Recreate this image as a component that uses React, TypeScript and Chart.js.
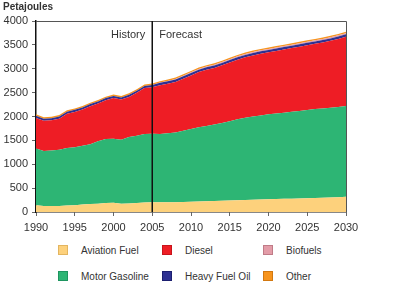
import React, { useEffect, useRef } from "react";
import { Chart, registerables } from "chart.js";

Chart.register(...registerables);

const years = [
  1990, 1991, 1992, 1993, 1994, 1995, 1996, 1997, 1998, 1999,
  2000, 2001, 2002, 2003, 2004, 2005, 2006, 2007, 2008, 2009,
  2010, 2011, 2012, 2013, 2014, 2015, 2016, 2017, 2018, 2019,
  2020, 2021, 2022, 2023, 2024, 2025, 2026, 2027, 2028, 2029, 2030,
];

const aviationFuel = [
  140, 125, 125, 125, 135, 140, 155, 165, 175, 190, 195, 175, 180, 190, 200, 205,
  205, 205, 205, 210, 215, 220, 225, 230, 235, 240,
  245, 250, 255, 260, 265, 270, 275, 280, 285, 290,
  295, 300, 305, 310, 320,
];

const motorGasoline = [
  1190, 1150, 1165, 1180, 1205, 1215, 1230, 1255, 1305, 1340, 1340, 1340, 1390, 1405, 1435, 1435,
  1430, 1445, 1460, 1490, 1525, 1555, 1575, 1600, 1630, 1660,
  1695, 1725, 1745, 1760, 1780, 1795, 1805, 1820, 1830, 1845,
  1860, 1870, 1880, 1890, 1900,
];

const diesel = [
  640, 635, 630, 650, 715, 740, 760, 795, 790, 810, 850, 840, 840, 900, 960, 975,
  1020, 1037, 1060, 1093, 1121, 1155, 1179, 1188, 1207, 1231,
  1250, 1265, 1279, 1294, 1298, 1308, 1323, 1332, 1347, 1357,
  1366, 1381, 1401, 1425, 1450,
];

const heavyFuelOil = [
  45, 45, 45, 45, 45, 45, 45, 45, 45, 45, 45, 45, 45, 45, 45, 45,
  50, 50, 50, 50, 50, 50, 50, 50, 50, 50,
  50, 50, 50, 50, 50, 50, 50, 50, 50, 50,
  50, 50, 50, 50, 50,
];

const biofuels = [
  0, 0, 0, 0, 0, 0, 0, 0, 0, 0, 0, 0, 0, 0, 0, 0,
  5, 8, 10, 12, 14, 15, 16, 17, 18, 19,
  20, 20, 21, 21, 22, 22, 22, 23, 23, 23,
  24, 24, 24, 25, 25,
];

const other = [
  30, 30, 30, 30, 30, 30, 30, 30, 30, 30, 30, 30, 30, 30, 30, 30,
  30, 30, 30, 30, 30, 30, 30, 30, 30, 30,
  30, 30, 30, 30, 30, 30, 30, 30, 30, 30,
  30, 30, 30, 30, 30,
];

const yTickValues = [0, 500, 1000, 1500, 2000, 2500, 3000, 3500, 4000];
const xTickValues = [1990, 1995, 2000, 2005, 2010, 2015, 2020, 2025, 2030];
const forecastStart = 2005;
const unitLabel = "Petajoules";
const historyLabel = "History";
const forecastLabel = "Forecast";

const COLORS = {
  aviation: "#FDD17C",
  gasoline: "#2DB574",
  diesel: "#EE1D25",
  hfo: "#2E3192",
  bio: "#E39CA8",
  other: "#F7941D",
};

// stacking order (bottom to top)
const seriesDefs = [
  { label: "Aviation Fuel", data: aviationFuel, color: COLORS.aviation },
  { label: "Motor Gasoline", data: motorGasoline, color: COLORS.gasoline },
  { label: "Diesel", data: diesel, color: COLORS.diesel },
  { label: "Heavy Fuel Oil", data: heavyFuelOil, color: COLORS.hfo },
  { label: "Biofuels", data: biofuels, color: COLORS.bio },
  { label: "Other", data: other, color: COLORS.other },
];

// legend layout order (row-major, 3 columns)
const legendItems = [
  { label: "Aviation Fuel", color: COLORS.aviation, border: "#E3B560" },
  { label: "Diesel", color: COLORS.diesel, border: "#C8141B" },
  { label: "Biofuels", color: COLORS.bio, border: "#C07B87" },
  { label: "Motor Gasoline", color: COLORS.gasoline, border: "#1E9560" },
  { label: "Heavy Fuel Oil", color: COLORS.hfo, border: "#1C1F70" },
  { label: "Other", color: COLORS.other, border: "#D27810" },
];
const legendCols = [58, 162, 263];
const legendRows = [250, 276];

const FONT = "'Liberation Sans', Arial, sans-serif";

const overlayPlugin = {
  id: "overlay",
  afterDatasetsDraw(chart: any) {
    const { ctx, chartArea, scales } = chart;
    const x = scales.x.getPixelForValue(forecastStart);
    ctx.save();
    // top/right frame
    ctx.strokeStyle = "#555";
    ctx.lineWidth = 1;
    ctx.beginPath();
    ctx.moveTo(chartArea.left, chartArea.top + 0.5);
    ctx.lineTo(chartArea.right + 0.5, chartArea.top + 0.5);
    ctx.lineTo(chartArea.right + 0.5, chartArea.bottom);
    ctx.stroke();
    // forecast divider
    ctx.strokeStyle = "#111";
    ctx.lineWidth = 1.5;
    ctx.beginPath();
    ctx.moveTo(x, chartArea.top);
    ctx.lineTo(x, chartArea.bottom);
    ctx.stroke();
    ctx.fillStyle = "#333";
    ctx.font = `11px ${FONT}`;
    ctx.textBaseline = "middle";
    ctx.textAlign = "right";
    ctx.fillText(historyLabel, x - 7, chartArea.top + 14);
    ctx.textAlign = "left";
    ctx.fillText(forecastLabel, x + 7, chartArea.top + 14);
    ctx.restore();
  },
};

export default function App() {
  const canvasRef = useRef<HTMLCanvasElement | null>(null);

  useEffect(() => {
    if (!canvasRef.current) return;
    Chart.defaults.font.family = FONT;
    const chart = new Chart(canvasRef.current, {
      type: "line",
      data: {
        datasets: seriesDefs.map((s, i) => ({
          label: s.label,
          data: years.map((yr, j) => ({ x: yr, y: s.data[j] })),
          backgroundColor: s.color,
          borderColor: s.color,
          borderWidth: 0,
          pointRadius: 0,
          tension: 0,
          fill: i === 0 ? "origin" : "-1",
        })),
      },
      options: {
        animation: false,
        responsive: false,
        maintainAspectRatio: false,
        layout: { padding: { top: 21, right: 54, left: 0, bottom: 0 } },
        plugins: {
          legend: { display: false },
          tooltip: { enabled: false },
          title: { display: false },
        },
        scales: {
          x: {
            type: "linear",
            min: 1990,
            max: 2030,
            afterBuildTicks: (scale: any) => {
              scale.ticks = xTickValues.map((v) => ({ value: v }));
            },
            afterFit: (scale: any) => {
              scale.height = 28;
            },
            ticks: {
              color: "#333",
              font: { size: 11 },
              padding: 5,
              maxRotation: 0,
              callback: (v: any) => String(v),
            },
            grid: {
              display: true,
              drawOnChartArea: false,
              drawTicks: true,
              tickLength: 4,
              color: "#666",
            },
            border: { display: true, color: "#111", width: 1.5 },
          },
          y: {
            type: "linear",
            stacked: true,
            min: 0,
            max: 4000,
            afterBuildTicks: (scale: any) => {
              scale.ticks = yTickValues.map((v) => ({ value: v }));
            },
            afterFit: (scale: any) => {
              scale.width = 36;
            },
            ticks: {
              color: "#333",
              font: { size: 11 },
              padding: 4,
              callback: (v: any) => String(v),
            },
            grid: {
              display: true,
              drawOnChartArea: false,
              drawTicks: true,
              tickLength: 4,
              color: "#666",
            },
            border: { display: true, color: "#111", width: 1.5 },
          },
        },
      },
      plugins: [overlayPlugin],
    });
    return () => chart.destroy();
  }, []);

  return (
    <div
      style={{
        position: "fixed",
        left: 0,
        top: 0,
        width: 400,
        height: 288,
        background: "#fff",
        fontFamily: FONT,
      }}
    >
      <canvas
        ref={canvasRef}
        width={400}
        height={240}
        style={{ position: "absolute", left: 0, top: 0, width: 400, height: 240 }}
      />
      <div
        style={{
          position: "absolute",
          left: 3,
          top: 0,
          fontSize: 10,
          fontWeight: "bold",
          color: "#333",
          lineHeight: "13px",
        }}
      >
        {unitLabel}
      </div>
      {legendItems.map((item, i) => {
        const col = i % 3;
        const row = Math.floor(i / 3);
        return (
          <div
            key={item.label}
            style={{
              position: "absolute",
              left: legendCols[col],
              top: legendRows[row] - 7,
              height: 14,
              display: "flex",
              alignItems: "center",
              fontSize: 10,
              color: "#333",
              whiteSpace: "nowrap",
            }}
          >
            <span
              style={{
                display: "inline-block",
                width: 8,
                height: 8,
                background: item.color,
                border: `1px solid ${item.border}`,
                marginRight: 13,
              }}
            />
            <span>{item.label}</span>
          </div>
        );
      })}
    </div>
  );
}
